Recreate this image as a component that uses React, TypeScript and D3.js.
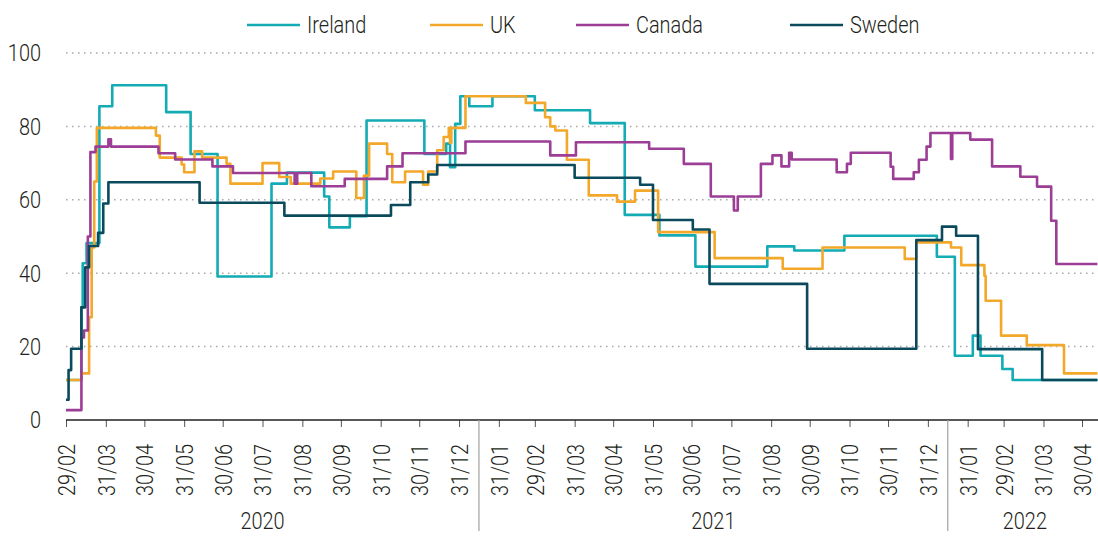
import { useEffect, useRef } from 'react';
import * as d3 from 'd3';

type Pt = [string, number];

const seriesNames = ['Ireland', 'UK', 'Canada', 'Sweden'];
const seriesColors = ['#13abb4', '#f4a82a', '#9c3d96', '#0b4a5c'];

const irelandData: Pt[] = [
  ['2020-02-29', 10.9], ['2020-03-12', 30.7], ['2020-03-13', 42.7], ['2020-03-16', 48.2],
  ['2020-03-26', 85.5], ['2020-04-05', 91.2], ['2020-05-17', 83.9], ['2020-06-05', 72.5],
  ['2020-06-26', 39.1], ['2020-08-07', 64.4], ['2020-08-19', 67.4], ['2020-09-17', 60.9],
  ['2020-09-21', 52.5], ['2020-10-07', 55.5], ['2020-10-20', 81.6], ['2020-12-04', 72.5],
  ['2020-12-21', 75.3], ['2020-12-24', 68.9], ['2020-12-28', 80.7], ['2021-01-01', 88.2],
  ['2021-01-08', 85.5], ['2021-01-26', 88.2], ['2021-02-28', 84.4], ['2021-04-12', 80.9],
  ['2021-05-09', 55.9], ['2021-06-05', 50.3], ['2021-07-03', 41.8], ['2021-08-28', 47.3],
  ['2021-09-18', 46.2], ['2021-10-27', 50.2], ['2022-01-07', 44.5], ['2022-01-21', 17.5],
  ['2022-02-04', 23], ['2022-02-10', 17.5], ['2022-02-27', 13.9], ['2022-03-07', 10.9],
  ['2022-05-12', 10.9],
];

const ukData: Pt[] = [
  ['2020-02-29', 10.9], ['2020-03-12', 12.7], ['2020-03-18', 28], ['2020-03-20', 47],
  ['2020-03-22', 65], ['2020-03-24', 79.6], ['2020-05-09', 77.5], ['2020-05-12', 71.5],
  ['2020-05-29', 69.6], ['2020-05-31', 67.5], ['2020-06-08', 73.2], ['2020-06-14', 71.5],
  ['2020-07-03', 69.8], ['2020-07-06', 64.4], ['2020-07-31', 70], ['2020-08-13', 66.2],
  ['2020-08-22', 64.4], ['2020-09-14', 65.8], ['2020-09-24', 67.7], ['2020-10-12', 60.5],
  ['2020-10-18', 66.6], ['2020-10-22', 75.3], ['2020-11-05', 72.5], ['2020-11-09', 64.8],
  ['2020-11-19', 67.7], ['2020-12-03', 64.1], ['2020-12-07', 67.7], ['2020-12-14', 73.5],
  ['2020-12-19', 77.1], ['2020-12-23', 79.6], ['2020-12-24', 75.5], ['2020-12-25', 79.6],
  ['2021-01-05', 88.2], ['2021-02-21', 86.4], ['2021-03-08', 82.5], ['2021-03-12', 80],
  ['2021-03-16', 78.9], ['2021-03-25', 70.9], ['2021-04-11', 61.2], ['2021-05-03', 59.5],
  ['2021-05-17', 62.5], ['2021-06-04', 51.2], ['2021-07-18', 44.1], ['2021-09-09', 41.2],
  ['2021-10-10', 47], ['2021-12-13', 43.9], ['2021-12-22', 48.4], ['2022-01-18', 47],
  ['2022-01-26', 42.2], ['2022-02-13', 39.3], ['2022-02-14', 32.5], ['2022-02-26', 23],
  ['2022-03-18', 20.4], ['2022-04-16', 12.7], ['2022-05-12', 12.7],
];

const canadaData: Pt[] = [
  ['2020-02-29', 2.7], ['2020-03-12', 22.5], ['2020-03-14', 24.4], ['2020-03-17', 50],
  ['2020-03-19', 73], ['2020-03-23', 74.5], ['2020-04-02', 76.5], ['2020-04-04', 74.5],
  ['2020-05-11', 72.7], ['2020-05-24', 71], ['2020-06-22', 69.1], ['2020-07-08', 67.3],
  ['2020-08-25', 64.4], ['2020-08-27', 67.3], ['2020-09-07', 63.7], ['2020-10-03', 65.7],
  ['2020-11-05', 69.1], ['2020-11-17', 72.7], ['2021-01-05', 75.9], ['2021-03-12', 72.1],
  ['2021-04-01', 75.7], ['2021-05-28', 73.9], ['2021-06-24', 69.8], ['2021-07-15', 60.9],
  ['2021-08-02', 57.1], ['2021-08-05', 60.9], ['2021-08-23', 69.8], ['2021-09-01', 72.1],
  ['2021-09-08', 69.1], ['2021-09-14', 72.8], ['2021-09-16', 71], ['2021-10-21', 67.5],
  ['2021-10-29', 69.8], ['2021-11-01', 72.8], ['2021-12-02', 69], ['2021-12-04', 65.7],
  ['2021-12-20', 67.5], ['2021-12-24', 70.9], ['2021-12-30', 74.5], ['2022-01-02', 78.2],
  ['2022-01-18', 71.1], ['2022-01-19', 78.2], ['2022-02-02', 76.4], ['2022-02-19', 69.1],
  ['2022-03-13', 66.3], ['2022-03-26', 63.6], ['2022-04-06', 54.3], ['2022-04-10', 42.5],
  ['2022-05-12', 42.5],
];

const swedenData: Pt[] = [
  ['2020-02-29', 5.5], ['2020-03-02', 13.6], ['2020-03-04', 19.4], ['2020-03-12', 30.7],
  ['2020-03-15', 41.6], ['2020-03-18', 47.4], ['2020-03-25', 51], ['2020-03-29', 59],
  ['2020-04-02', 64.8], ['2020-06-12', 59.2], ['2020-08-17', 55.7], ['2020-11-08', 58.6],
  ['2020-11-23', 64.8], ['2020-12-07', 66.9], ['2020-12-14', 69.5], ['2021-03-31', 66],
  ['2021-05-21', 64.1], ['2021-05-31', 54.5], ['2021-07-01', 51.9], ['2021-07-14', 37.1],
  ['2021-09-28', 19.4], ['2021-12-22', 49], ['2022-01-11', 52.7], ['2022-01-22', 50.2],
  ['2022-02-08', 19.3], ['2022-03-30', 10.9], ['2022-05-12', 10.9],
];

const tickLabels = [
  '29/02', '31/03', '30/04', '31/05', '30/06', '31/07', '31/08', '30/09', '31/10', '30/11', '31/12',
  '31/01', '29/02', '31/03', '30/04', '31/05', '30/06', '31/07', '31/08', '30/09', '31/10', '30/11', '31/12',
  '31/01', '29/02', '31/03', '30/04',
];
const yearLabels = ['2020', '2021', '2022'];
const yTicks = [0, 20, 40, 60, 80, 100];

export default function App() {
  const svgRef = useRef<SVGSVGElement>(null);

  useEffect(() => {
    if (!svgRef.current) return;

    const svg = d3.select(svgRef.current);
    svg.selectAll('*').remove();

    const left = 66;
    const right = 1098;
    const bottom = 420;
    const ink = '#231f20';
    const squeeze = 0.83; // condensed look

    const parse = d3.timeParse('%Y-%m-%d');
    const x = d3.scaleTime()
      .domain([new Date(2020, 1, 29), new Date(2022, 3, 30)])
      .range([66, 1082]);
    const y = d3.scaleLinear().domain([0, 100]).range([bottom, 53]);

    // Grid lines
    svg.append('g')
      .selectAll('line')
      .data(yTicks.filter(d => d > 0))
      .join('line')
      .attr('x1', left)
      .attr('x2', right)
      .attr('y1', d => y(d))
      .attr('y2', d => y(d))
      .attr('stroke', '#a8a8a8')
      .attr('stroke-width', 1.5)
      .attr('stroke-dasharray', '1.5 4.5');

    // Y labels
    svg.append('g')
      .selectAll('text')
      .data(yTicks)
      .join('text')
      .attr('transform', d => `translate(41,${y(d)}) scale(${squeeze},1)`)
      .attr('dy', '0.35em')
      .attr('text-anchor', 'end')
      .attr('fill', ink)
      .text(d => d);

    // Series
    const allData = [irelandData, ukData, canadaData, swedenData];
    const line = d3.line<Pt>()
      .x(d => x(parse(d[0]) as Date))
      .y(d => y(d[1]))
      .curve(d3.curveStepAfter);

    svg.append('g')
      .selectAll('path')
      .data(allData)
      .join('path')
      .attr('d', d => line(d))
      .attr('fill', 'none')
      .attr('stroke', (_, i) => seriesColors[i])
      .attr('stroke-width', 2.6)
      .attr('stroke-linejoin', 'round');

    // X axis
    const tickDates = d3.timeMonth
      .range(new Date(2020, 2, 1), new Date(2022, 4, 2))
      .map(d => d3.timeDay.offset(d, -1));

    const axis = svg.append('g')
      .attr('transform', `translate(0,${bottom})`)
      .call(d3.axisBottom(x).tickValues(tickDates).tickSize(7).tickFormat((_, i) => tickLabels[i]));

    axis.select('.domain').remove();
    axis.selectAll('.tick line').attr('stroke', '#555').attr('stroke-width', 1);
    axis.selectAll('.tick text')
      .attr('y', null)
      .attr('dy', '0.35em')
      .attr('transform', `translate(0,24) rotate(-90) scale(${squeeze},1)`)
      .attr('text-anchor', 'end')
      .attr('font-size', 24)
      .attr('font-family', 'Roboto, sans-serif')
      .attr('font-weight', 300)
      .attr('fill', ink);

    svg.append('line')
      .attr('x1', left)
      .attr('x2', right)
      .attr('y1', bottom)
      .attr('y2', bottom)
      .attr('stroke', ink)
      .attr('stroke-width', 1.6);

    // Year groups
    const half = (x(tickDates[1]) - x(tickDates[0])) / 2;
    const seps: number[] = [];
    tickDates.forEach((d, i) => {
      if (d.getMonth() === 11 && i + 1 < tickDates.length) {
        seps.push((x(d) + x(tickDates[i + 1])) / 2);
      }
    });
    const bounds = [x(tickDates[0]) - half, ...seps, x(tickDates[tickDates.length - 1]) + half];

    svg.append('g')
      .selectAll('line')
      .data(seps)
      .join('line')
      .attr('x1', d => d)
      .attr('x2', d => d)
      .attr('y1', bottom)
      .attr('y2', 531)
      .attr('stroke', '#a0a0a0')
      .attr('stroke-width', 1.2);

    svg.append('g')
      .selectAll('text')
      .data(yearLabels)
      .join('text')
      .attr('transform', (_, i) => `translate(${(bounds[i] + bounds[i + 1]) / 2},529) scale(${squeeze},1)`)
      .attr('text-anchor', 'middle')
      .attr('fill', ink)
      .text(d => d);

    // Legend
    const legendX = [247, 430, 576, 790];
    const legend = svg.append('g');
    seriesNames.forEach((name, i) => {
      const item = legend.append('g').attr('transform', `translate(${legendX[i]},25)`);
      item.append('line')
        .attr('x1', 0)
        .attr('x2', 53)
        .attr('stroke', seriesColors[i])
        .attr('stroke-width', 2.6);
      item.append('text')
        .attr('transform', `translate(60,0) scale(${squeeze},1)`)
        .attr('dy', '0.33em')
        .attr('fill', ink)
        .text(name);
    });
  }, []);

  return (
    <svg
      ref={svgRef}
      width={1098}
      height={536}
      style={{ position: 'absolute', left: 0, top: 0, background: '#fff' }}
      fontFamily="Roboto, sans-serif"
      fontWeight={300}
      fontSize={24}
    />
  );
}
